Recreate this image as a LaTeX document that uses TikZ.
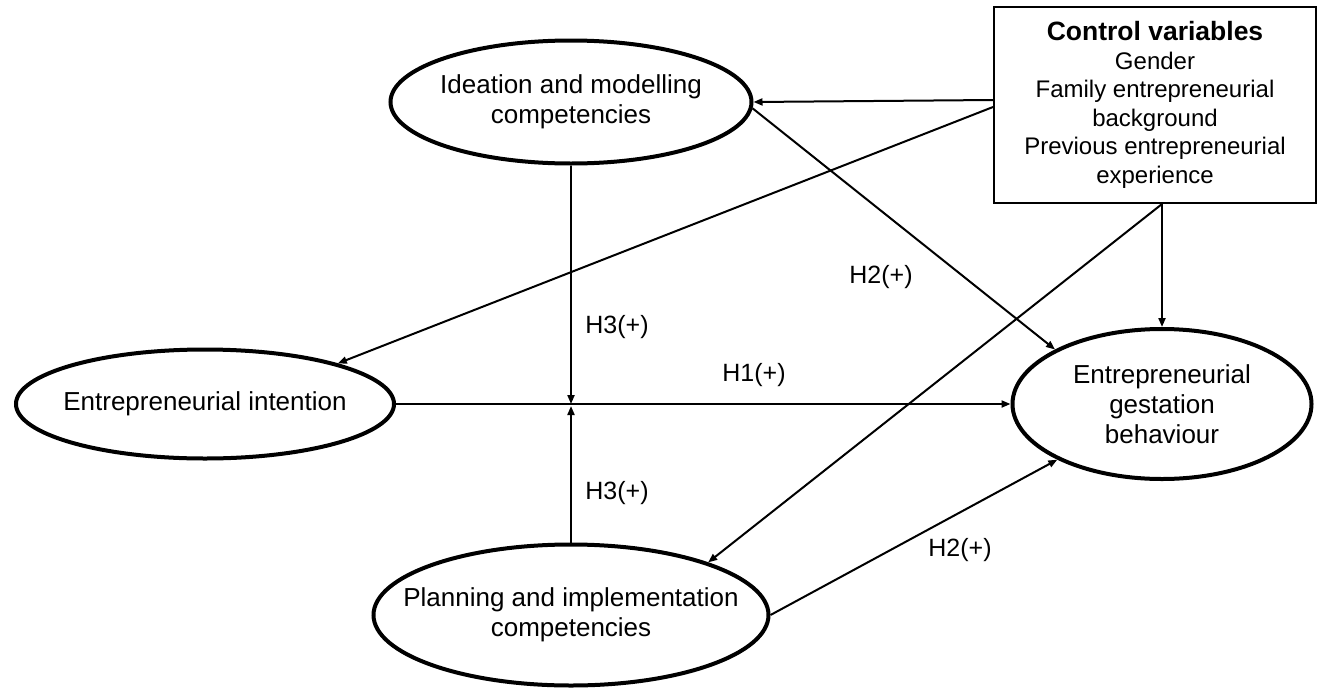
\documentclass[tikz,border=0pt]{standalone}
\usepackage{fontspec}
\setmainfont{Liberation Sans}
\usetikzlibrary{positioning,shapes.geometric,arrows.meta}

\begin{document}
\begin{tikzpicture}[x=1pt,y=-1pt,
    construct/.style={ellipse,draw,line width=4pt,inner sep=0pt,align=center,
      font=\fontsize{26}{30}\selectfont},
    controlbox/.style={rectangle,draw,line width=2pt,inner sep=0pt,align=center,
      font=\fontsize{24}{28.5}\selectfont},
    hyp/.style={font=\fontsize{25}{30}\selectfont},
    link/.style={line width=2pt,-{Triangle[length=9pt,width=7pt]}}]
      \useasboundingbox (0,0) rectangle (1317,691);

      % Define the constructs
      \node[construct,inner xsep=-4pt,minimum width=361pt,minimum height=123pt] (ideation) at (571,102) {Ideation and modelling\\competencies};
      \node[construct,inner xsep=-8pt,minimum width=376pt,minimum height=109pt] (intention) at (205,404) {Entrepreneurial intention};
      \node[construct,minimum width=299pt,minimum height=150pt] (gestation) at (1162,404) {Entrepreneurial\\gestation\\behaviour};
      \node[construct,inner xsep=-33pt,minimum width=395pt,minimum height=141pt] (planning) at (571,615) {Planning and implementation\\competencies};

      \node[controlbox,minimum width=322pt,minimum height=196pt] (ctrl) at (1155,105) {{\fontsize{26.5}{30}\selectfont\bfseries Control variables}\\Gender\\Family entrepreneurial\\background\\Previous entrepreneurial\\experience};

      \coordinate (fork) at (ctrl.south -| gestation.north);
      \coordinate (hub) at (ideation.south |- intention.east);

      \draw[link] ([yshift=5pt]ctrl.west) -- (ideation.east);
      \draw[link] ([yshift=-2pt]ctrl.west) -- (intention.17);
      \draw[link] (fork) -- (gestation.north);
      \draw[link] (fork) -- (planning.21);

      \draw[link] (ideation.-2) -- (gestation.153);
      \draw[link] (intention.east) -- (gestation.west);
      \draw[link] (planning.east) -- (gestation.208);

      \draw[link] (ideation.south) -- (hub);
      \draw[link,shorten >=2pt] (planning.north) -- (hub);

      % hypotheses
      \node[hyp] (h2a) at (881,277) {H2(+)};
      \node[hyp] (h3a) at (617,327) {H3(+)};
      \node[hyp] (h1) at (754,375) {H1(+)};
      \node[hyp] (h3b) at (617,493) {H3(+)};
      \node[hyp] (h2b) at (960,550) {H2(+)};

\end{tikzpicture}
\end{document}
